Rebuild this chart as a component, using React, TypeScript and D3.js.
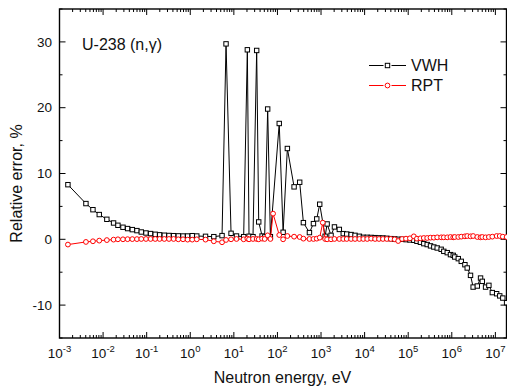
import React from "react";
import * as d3 from "d3";

// Neutron energy grid (eV)
const energy: number[] = [
  1.56e-3, 4.04e-3, 5.85e-3, 8.17e-3, 1.22e-2, 1.74e-2, 2.19e-2, 2.86e-2, 3.65e-2, 4.68e-2,
  5.98e-2, 7.52e-2, 9.64e-2, 0.123, 0.157, 0.198, 0.254, 0.325, 0.415, 0.532,
  0.682, 0.871, 1.11, 1.41, 2.24, 3.47, 5.36, 6.62, 8.63, 11.5,
  16.8, 20.4, 22.3, 27.5, 33.4, 37.2, 44.5, 50.9, 59.7, 68.9,
  79.4, 110, 135, 169, 241, 324, 394, 542, 670, 798,
  933, 1096, 1242, 1380, 1698, 2032, 2630, 3236, 3890, 4898,
  6026, 7586, 9333, 11480, 14130, 17380, 21380, 26300, 32360, 39810,
  48980, 58880, 72440, 89130, 109600, 134600, 158500, 190500, 228000, 273000,
  325000, 387000, 463000, 571000, 656000, 787000, 933000, 1.08e6, 1.17e6, 1.41e6,
  1.65e6, 2.0e6, 2.26e6, 2.69e6, 3.09e6, 3.85e6, 4.57e6, 5.01e6, 5.96e6, 7.1e6,
  8.51e6, 1.07e7, 1.26e7, 1.48e7, 1.81e7,
];

// VWH relative error, %
const vwh: (number | null)[] = [
  8.3, 5.43, 4.5, 3.76, 3.04, 2.48, 2.13, 1.83, 1.63, 1.47,
  1.32, 1.11, 0.96, 0.87, 0.76, 0.68, 0.62, 0.58, 0.55, 0.52,
  0.5, 0.5, 0.55, 0.5, 0.45, 0.4, 0.56, 29.7, 0.91, 0.5,
  0.4, 28.8, 0.46, 0.4, 28.7, 2.64, 0.5, 0.36, 19.8, 0.4,
  null, 17.6, 1.07, 13.8, 7.97, 8.67, 2.53, 1.02, 2.38, 3.1,
  5.33, null, 0.46, 2.33, 0.6, 1.88, 1.5, 0.86, 0.8, 0.72,
  0.6, 0.46, 0.3, 0.3, 0.28, 0.25, 0.22, 0.2, 0.15, 0.1,
  0.05, 0.0, 0.0, -0.05, -0.1, -0.15, -0.3, -0.45, -0.66, -0.8,
  -1.0, -1.17, -1.32, -1.52, -1.83, -2.03, -2.33, -2.44, -2.69, -2.94,
  -3.35, -3.86, -4.36, -5.48, -7.26, -7.1, -5.89, -6.39, -7.26, -7.0,
  -8.1, -8.27, -8.6, -8.93, -9.64,
];

// RPT relative error, %
const rpt: number[] = [
  -0.8, -0.4, -0.3, -0.2, -0.12, -0.05, 0.0, 0.0, 0.02, 0.03,
  0.03, 0.05, 0.05, 0.05, 0.05, 0.05, 0.05, 0.05, 0.05, 0.0,
  0.0, -0.05, -0.05, 0.0, -0.05, -0.3, -0.45, -0.1, 0.0, 0.05,
  0.0, 0.1, 0.0, 0.05, 0.05, 0.0, 0.1, 0.05, 0.6, 0.05,
  3.9, 0.65, 0.0, 0.5, 0.4, 0.35, 0.1, 0.05, 0.05, 0.1,
  0.25, 2.53, 0.05, 0.0, 0.0, 0.05, 0.05, 0.05, 0.05, 0.05,
  0.05, 0.05, 0.05, 0.05, 0.1, 0.05, 0.05, 0.05, 0.05, 0.05,
  0.0, -0.26, 0.05, 0.1, 0.15, 0.45, 0.1, 0.15, 0.2, 0.2,
  0.25, 0.25, 0.3, 0.3, 0.3, 0.3, 0.35, 0.3, 0.35, 0.35,
  0.4, 0.45, 0.5, 0.45, 0.5, 0.35, 0.3, 0.35, 0.3, 0.35,
  0.4, 0.5, 0.5, 0.4, 0.35,
];

const xMajorExps: number[] = [-3, -2, -1, 0, 1, 2, 3, 4, 5, 6, 7];
const yMajorTicks: number[] = [-10, 0, 10, 20, 30];
const yMinorTicks: number[] = [-15, -5, 5, 15, 25, 35];

const W = 507;
const H = 390;
const L = 59.5, R = 506.5, T = 9, B = 338;
const FONT = "'Liberation Sans', Arial, sans-serif";

export default function App() {
  const x = d3.scaleLog().domain([1e-3, 1.8e7]).range([L, R]);
  const y = d3.scaleLinear().domain([-15, 35]).range([B, T]);

  const vwhPts = energy
    .map((e, i) => ({ e, v: vwh[i] }))
    .filter((d) => d.v !== null) as { e: number; v: number }[];
  const rptPts = energy.map((e, i) => ({ e, v: rpt[i] }));

  const line = d3
    .line<{ e: number; v: number }>()
    .x((d) => x(d.e))
    .y((d) => y(d.v));

  const minorX: number[] = [];
  xMajorExps.forEach((p) => {
    for (let k = 2; k <= 9; k++) {
      const v = k * Math.pow(10, p);
      if (v <= 1.8e7) minorX.push(v);
    }
  });

  const MAJ = 6, MIN = 3;
  const sq = 4.4;

  return (
    <svg
      width={W}
      height={H}
      style={{ position: "absolute", left: 0, top: 0, background: "#fff" }}
      fontFamily={FONT}
    >
      <rect x={0} y={0} width={W} height={H} fill="#fff" />
      {/* ticks */}
      <g stroke="#000" strokeWidth={1}>
        {xMajorExps.map((p) => {
          const xx = x(Math.pow(10, p));
          return (
            <g key={"xm" + p}>
              <line x1={xx} x2={xx} y1={B} y2={B - MAJ} />
              <line x1={xx} x2={xx} y1={T} y2={T + MAJ} />
            </g>
          );
        })}
        {minorX.map((v, i) => {
          const xx = x(v);
          return (
            <g key={"xn" + i}>
              <line x1={xx} x2={xx} y1={B} y2={B - MIN} />
              <line x1={xx} x2={xx} y1={T} y2={T + MIN} />
            </g>
          );
        })}
        {yMajorTicks.map((v) => (
          <g key={"ym" + v}>
            <line x1={L} x2={L + MAJ} y1={y(v)} y2={y(v)} />
            <line x1={R} x2={R - MAJ} y1={y(v)} y2={y(v)} />
          </g>
        ))}
        {yMinorTicks.map((v) => (
          <g key={"yn" + v}>
            <line x1={L} x2={L + MIN} y1={y(v)} y2={y(v)} />
            <line x1={R} x2={R - MIN} y1={y(v)} y2={y(v)} />
          </g>
        ))}
      </g>

      {/* frame */}
      <rect x={L} y={T} width={R - L} height={B - T} fill="none" stroke="#000" strokeWidth={1.4} />

      {/* VWH */}
      <path d={line(vwhPts) || ""} fill="none" stroke="#000" strokeWidth={1} />
      {vwhPts.map((d, i) => (
        <rect
          key={"s" + i}
          x={x(d.e) - sq / 2}
          y={y(d.v) - sq / 2}
          width={sq}
          height={sq}
          fill="#fff"
          stroke="#000"
          strokeWidth={1}
        />
      ))}

      {/* RPT */}
      <path d={line(rptPts) || ""} fill="none" stroke="#f00" strokeWidth={1} />
      {rptPts.map((d, i) => (
        <circle key={"c" + i} cx={x(d.e)} cy={y(d.v)} r={2.4} fill="#fff" stroke="#f00" strokeWidth={1} />
      ))}

      {/* x tick labels */}
      {xMajorExps.map((p) => (
        <text key={"xl" + p} x={x(Math.pow(10, p))} y={358} textAnchor="middle" fontSize={13.5} fill="#111">
          10
          <tspan fontSize={9.5} dy={-6}>
            {p}
          </tspan>
        </text>
      ))}

      {/* y tick labels */}
      {yMajorTicks.map((v) => (
        <text key={"yl" + v} x={52} y={y(v) + 4.7} textAnchor="end" fontSize={13.5} fill="#111">
          {v}
        </text>
      ))}

      {/* axis titles */}
      <text x={282.5} y={383} textAnchor="middle" fontSize={16} fill="#111">
        Neutron energy, eV
      </text>
      <text transform="translate(22,183.5) rotate(-90)" textAnchor="middle" fontSize={16} fill="#111">
        Relative error, %
      </text>

      {/* annotation */}
      <text x={82} y={50} fontSize={16} fill="#111">
        U-238 (n,γ)
      </text>

      {/* legend */}
      <g>
        <line x1={369} x2={383.5} y1={65.5} y2={65.5} stroke="#000" strokeWidth={1} />
        <line x1={391.5} x2={406} y1={65.5} y2={65.5} stroke="#000" strokeWidth={1} />
        <rect x={387.5 - sq / 2} y={65.5 - sq / 2} width={sq} height={sq} fill="#fff" stroke="#000" />
        <text x={411} y={71} fontSize={16} fill="#111">
          VWH
        </text>
        <line x1={369} x2={383.5} y1={85.5} y2={85.5} stroke="#f00" strokeWidth={1} />
        <line x1={391.5} x2={406} y1={85.5} y2={85.5} stroke="#f00" strokeWidth={1} />
        <circle cx={387.5} cy={85.5} r={2.4} fill="#fff" stroke="#f00" />
        <text x={411} y={91} fontSize={16} fill="#111">
          RPT
        </text>
      </g>
    </svg>
  );
}
